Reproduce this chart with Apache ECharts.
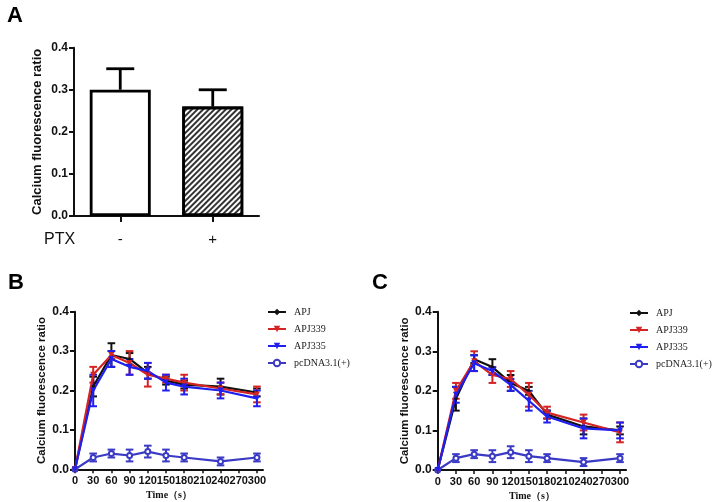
<!DOCTYPE html>
<html><head><meta charset="utf-8">
<script src="https://cdn.jsdelivr.net/npm/echarts@6/dist/echarts.min.js"></script>
<style>html,body{margin:0;padding:0;background:#fff}#c{width:713px;height:502px}</style>
</head><body><div id="c"></div>
<script>
// ---- Panel A data ----
const ptxCategories = ['-', '+'];
const ptxValues = [0.30, 0.26];
const ptxErrors = [0.05, 0.04];

// ---- Panels B / C data ----
const timePoints = [0, 30, 60, 90, 120, 150, 180, 240, 300];
const timeTicks = [0, 30, 60, 90, 120, 150, 180, 210, 240, 270, 300];
const seriesNames = ['APJ', 'APJ339', 'APJ335', 'pcDNA3.1(+)'];

const B_APJ        = [0, 0.21, 0.29, 0.28, 0.245, 0.225, 0.215, 0.21, 0.195];
const B_APJ_err    = [0, 0.025, 0.03, 0.015, 0.015, 0.01, 0.01, 0.02, 0.01];
const B_APJ339     = [0, 0.24, 0.29, 0.27, 0.24, 0.23, 0.22, 0.205, 0.19];
const B_APJ339_err = [0, 0.02, 0.01, 0.03, 0.03, 0.01, 0.02, 0.015, 0.02];
const B_APJ335     = [0, 0.20, 0.28, 0.26, 0.25, 0.22, 0.21, 0.20, 0.18];
const B_APJ335_err = [0, 0.04, 0.02, 0.02, 0.02, 0.02, 0.02, 0.02, 0.02];
const B_pcDNA      = [0, 0.03, 0.04, 0.035, 0.045, 0.035, 0.03, 0.02, 0.03];
const B_pcDNA_err  = [0, 0.01, 0.01, 0.015, 0.015, 0.015, 0.01, 0.01, 0.01];

const C_APJ        = [0, 0.18, 0.28, 0.26, 0.22, 0.20, 0.14, 0.11, 0.10];
const C_APJ_err    = [0, 0.03, 0.01, 0.02, 0.02, 0.01, 0.01, 0.02, 0.01];
const C_APJ339     = [0, 0.20, 0.275, 0.24, 0.23, 0.19, 0.145, 0.12, 0.095];
const C_APJ339_err = [0, 0.02, 0.025, 0.02, 0.02, 0.03, 0.015, 0.02, 0.025];
const C_APJ335     = [0, 0.19, 0.27, 0.25, 0.215, 0.175, 0.135, 0.105, 0.10];
const C_APJ335_err = [0, 0.02, 0.02, 0.01, 0.015, 0.025, 0.015, 0.025, 0.02];
const C_pcDNA      = [0, 0.03, 0.04, 0.035, 0.045, 0.035, 0.03, 0.02, 0.03];
const C_pcDNA_err  = [0, 0.01, 0.01, 0.015, 0.015, 0.015, 0.01, 0.01, 0.01];

const colors = ['#111111', '#d42424', '#1f1ff0', '#3a3ac4'];
const symbols = ['diamond', 'triangle', 'triangle', 'emptyCircle'];
const symbolSizes = [4, 6, 6, 5];
const symbolRot = [0, 180, 180, 0];

const sans = 'Liberation Sans, Arial, sans-serif';
const serif = 'Liberation Serif, Times New Roman, serif';

function errRender(color, cap, lw, upOnly) {
  return function (params, api) {
    const x = api.value(0), y = api.value(1), e = api.value(2);
    if (!e) return null;
    const top = api.coord([x, y + e]);
    const bot = upOnly ? api.coord([x, y]) : api.coord([x, y - e]);
    const st = { stroke: color, lineWidth: lw };
    const ch = [
      { type: 'line', shape: { x1: top[0], y1: top[1], x2: bot[0], y2: bot[1] }, style: st },
      { type: 'line', shape: { x1: top[0] - cap, y1: top[1], x2: top[0] + cap, y2: top[1] }, style: st }
    ];
    if (!upOnly) ch.push({ type: 'line', shape: { x1: bot[0] - cap, y1: bot[1], x2: bot[0] + cap, y2: bot[1] }, style: st });
    return { type: 'group', children: ch };
  };
}

function yAxisFor(gridIndex, nameSize, nameGap) {
  return {
    gridIndex, type: 'value', min: 0, max: 0.4, interval: 0.1,
    name: 'Calcium fluorescence ratio', nameLocation: 'middle', nameGap: nameGap,
    nameTextStyle: { fontFamily: sans, fontWeight: 'bold', fontSize: nameSize, color: '#111' },
    axisLine: { show: true, lineStyle: { color: '#111', width: 2 } },
    axisTick: { show: true, length: 5, lineStyle: { color: '#111', width: 2 } },
    axisLabel: { fontFamily: sans, fontWeight: 'bold', fontSize: 12, color: '#111', margin: 6,
      formatter: v => v.toFixed(1) },
    splitLine: { show: false }
  };
}
function xTimeAxis(gridIndex) {
  return {
    gridIndex, type: 'value', min: 0, max: 310,
    name: 'Time（s）', nameLocation: 'middle', nameGap: 21,
    nameTextStyle: { fontFamily: serif, fontWeight: 'bold', fontSize: 10, color: '#111' },
    axisLine: { show: true, lineStyle: { color: '#111', width: 2 } },
    axisTick: { show: true, length: 4, customValues: timeTicks, lineStyle: { color: '#111', width: 1.5 } },
    axisLabel: { fontFamily: sans, fontWeight: 'bold', fontSize: 11, color: '#111', margin: 6,
      customValues: timeTicks, hideOverlap: false },
    splitLine: { show: false }
  };
}

const series = [];
// Panel A bars
series.push({
  type: 'bar', xAxisIndex: 0, yAxisIndex: 0, barWidth: 61,
  data: ptxValues.map((v, i) => ({
    value: v,
    itemStyle: i === 0
      ? { color: '#fff', borderColor: '#000', borderWidth: 2.8 }
      : { color: '#fff', borderColor: '#000', borderWidth: 2.8,
          decal: { symbol: 'rect', symbolSize: 1, dashArrayX: [1, 0], dashArrayY: [1.4, 1.6],
                   rotation: -Math.PI / 4, color: '#333', backgroundColor: '#fff' } }
  })),
  z: 2
});
series.push({
  type: 'custom', name: 'A err', xAxisIndex: 0, yAxisIndex: 0,
  renderItem: errRender('#000', 14, 2.8, true),
  encode: { x: 0, y: 1 },
  data: ptxValues.map((v, i) => [i, v, ptxErrors[i]]), z: 3
});

function addPanel(gi, vals, errs) {
  // draw order: pcDNA, APJ, APJ339, APJ335
  const order = [3, 0, 1, 2];
  order.forEach(k => {
    series.push({
      type: 'custom', name: seriesNames[k] + ' err' + gi, xAxisIndex: gi, yAxisIndex: gi,
      renderItem: errRender(colors[k], 3.8, 2, false), encode: { x: 0, y: 1 },
      data: timePoints.map((t, i) => [t, vals[k][i], errs[k][i]]), z: 2
    });
    series.push({
      type: 'line', name: seriesNames[k], xAxisIndex: gi, yAxisIndex: gi,
      data: timePoints.map((t, i) => [t, vals[k][i]]),
      symbol: symbols[k], symbolSize: symbolSizes[k], symbolRotate: symbolRot[k],
      lineStyle: { color: colors[k], width: 2.2 },
      itemStyle: { color: colors[k], borderColor: colors[k], borderWidth: k === 3 ? 1.5 : 0 },
      emphasis: { disabled: true }, z: 3
    });
  });
}
addPanel(1, [B_APJ, B_APJ339, B_APJ335, B_pcDNA], [B_APJ_err, B_APJ339_err, B_APJ335_err, B_pcDNA_err]);
addPanel(2, [C_APJ, C_APJ339, C_APJ335, C_pcDNA], [C_APJ_err, C_APJ339_err, C_APJ335_err, C_pcDNA_err]);

const legendBase = {
  orient: 'vertical', itemWidth: 18, itemHeight: 8, itemGap: 7, data: seriesNames,
  textStyle: { fontFamily: serif, fontSize: 10, color: '#222', padding: [0, 0, 0, 3] },
  selectedMode: false
};

const option = {
  backgroundColor: '#fff',
  animation: false,
  grid: [
    { left: 74, top: 47.7, width: 185, height: 168.3 },
    { left: 75, top: 311.7, width: 188, height: 157.6 },
    { left: 437.7, top: 311.7, width: 188.4, height: 158.3 }
  ],
  xAxis: [
    { gridIndex: 0, type: 'category', data: ptxCategories,
      axisLine: { show: true, lineStyle: { color: '#111', width: 2 } },
      axisTick: { show: true, alignWithLabel: true, length: 6, lineStyle: { color: '#111', width: 2 } },
      axisLabel: { fontFamily: sans, fontSize: 15, color: '#111', margin: 16 } },
    xTimeAxis(1), xTimeAxis(2)
  ],
  yAxis: [yAxisFor(0, 13, 30), yAxisFor(1, 11.5, 27), yAxisFor(2, 11.5, 26)],
  legend: [
    Object.assign({ left: 262, top: 302 }, legendBase),
    Object.assign({ left: 624, top: 303 }, legendBase)
  ],
  graphic: [
    { type: 'text', left: 7, top: 5, style: { text: 'A', fontSize: 22, fontWeight: 'bold', fontFamily: sans, fill: '#000' } },
    { type: 'text', left: 8, top: 272, style: { text: 'B', fontSize: 22, fontWeight: 'bold', fontFamily: sans, fill: '#000' } },
    { type: 'text', left: 372, top: 272, style: { text: 'C', fontSize: 22, fontWeight: 'bold', fontFamily: sans, fill: '#000' } },
    { type: 'text', left: 44, top: 232, style: { text: 'PTX', fontSize: 16, fontFamily: sans, fill: '#111' } }
  ],
  series
};
const chart = echarts.init(document.getElementById('c'), null, { renderer: 'canvas' });
chart.setOption(option);
</script></body></html>
